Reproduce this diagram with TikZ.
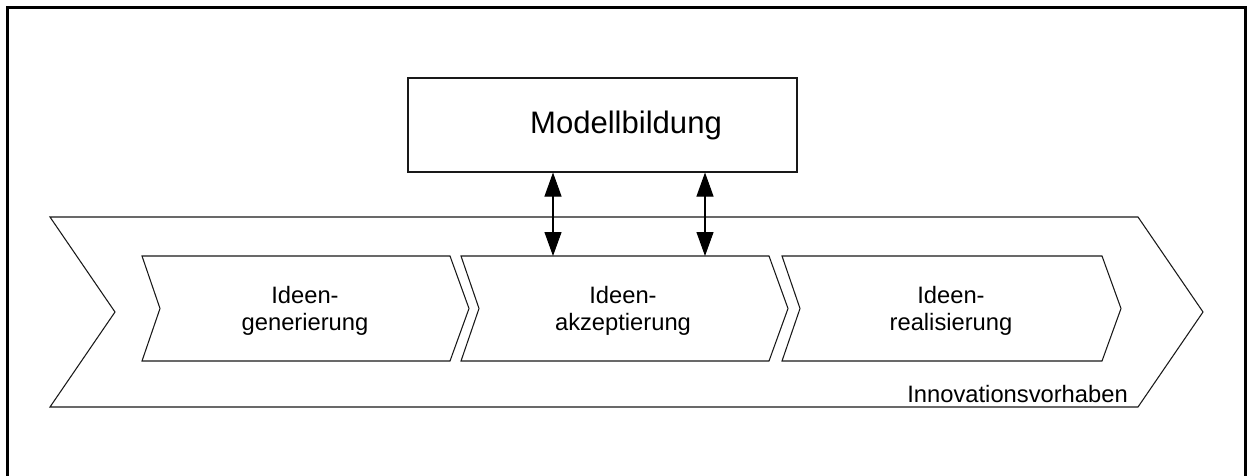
\documentclass[tikz,border=0pt]{standalone}
\usepackage{fontspec}
\setmainfont{Liberation Sans}
\usetikzlibrary{arrows.meta}
\begin{document}
\begin{tikzpicture}[x=0.75pt,y=-0.75pt,
  frame/.style={line width=1.6pt,draw=black},
  outline/.style={line width=0.8pt,draw=black!90,line join=miter},
  stagelabel/.style={align=center,font=\fontsize{17.8}{20.3}\selectfont,inner sep=0pt},
  modelbox/.style={outline,rectangle,minimum width=291.75pt,minimum height=70.5pt,inner sep=0pt},
  link/.style={line width=0.8pt,{Triangle[length=18pt,width=12.75pt]}-{Triangle[length=18pt,width=12.75pt]}}]
\useasboundingbox (0,0) rectangle (1248,475);
% page frame (runs past the lower edge)
\draw[frame] (7.5,490) -- (7.5,7.5) -- (1245.5,7.5) -- (1245.5,490);
% outer process arrow
\draw[outline] (50,217) coordinate (outer-nw) -- (1138,217) -- (1203,312) -- (1138,407) coordinate (outer-se)
  -- (50,407) -- (115,312) -- cycle;
% the three phases
\foreach \a/\b/\n in {142/450/s1, 461/769/s2, 782/1102/s3}{
  \draw[outline] (\a,256) coordinate (\n-nw) -- (\b,256) -- ({\b+19},308.5) -- (\b,361)
    -- (\a,361) -- ({\a+18},308.5) -- cycle;
}
\node[stagelabel] (l1) at (305,311) {Ideen-\\generierung};
\node[stagelabel] (l2) at (623,311) {Ideen-\\akzeptierung};
\node[stagelabel] (l3) at (951,311) {Ideen-\\realisierung};
\node[anchor=base east,inner sep=0pt,font=\fontsize{17.8}{20.3}\selectfont] (proj) at (1128,402) {Innovationsvorhaben};
% model building box
\node[modelbox] (model) at (602.5,125) {};
\node[anchor=base,inner sep=0pt,font=\fontsize{23.3}{27}\selectfont] (modeltext) at (626,133) {Modellbildung};
% links between model building and idea acceptance
\coordinate (a1) at (553,0);
\coordinate (a2) at (705,0);
\draw[link] (a1 |- model.south) -- (a1 |- s2-nw);
\draw[link] (a2 |- model.south) -- (a2 |- s2-nw);
\end{tikzpicture}
\end{document}
